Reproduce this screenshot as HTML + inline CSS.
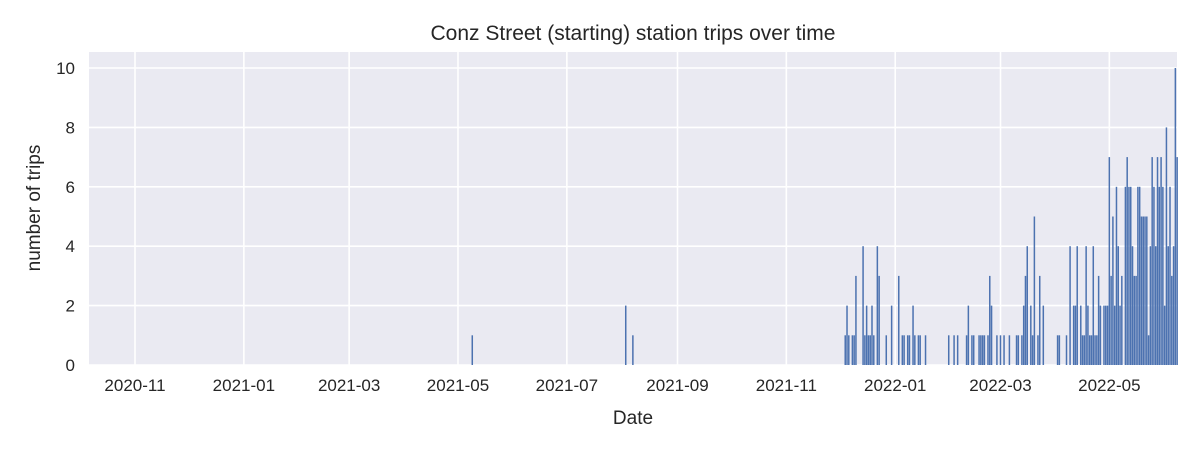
<!DOCTYPE html>
<html><head><meta charset="utf-8"><style>
body{margin:0;background:#fff;font-family:"Liberation Sans",sans-serif;}
svg text{font-family:"Liberation Sans",sans-serif;fill:#262626;}
</style></head><body>
<svg id="chart" width="1200" height="450">
<rect x="89" y="52" width="1088" height="313" fill="#eaeaf2"/>
<g id="grid"></g><g id="bars"></g><g id="ticks"></g>
<text x="633" y="40" font-size="21" text-anchor="middle">Conz Street (starting) station trips over time</text>
<text x="633" y="424" font-size="19" text-anchor="middle">Date</text>
<text x="40" y="208" font-size="19" text-anchor="middle" transform="rotate(-90 40 208)">number of trips</text>
</svg>
<script>
// day offsets since 2020-11-01
const days=[189,275,279,398,399,400,402,403,404,408,409,410,411,412,413,414,416,417,421,424,428,430,431,433,434,436,437,439,440,443,456,459,461,466,467,469,470,473,474,475,476,478,479,480,483,485,487,490,494,495,497,498,499,500,502,503,504,506,507,509,517,518,522,524,526,527,528,530,531,532,533,534,535,536,537,538,539,540,541,543,544,545,546,547,548,549,550,551,552,553,555,556,557,558,559,560,561,562,563,564,565,566,567,568,569,570,571,572,573,574,575,576,577,578,579,580,581,582,583,584];
const trips=[1,2,1,1,2,1,1,1,3,4,1,2,1,1,2,1,4,3,1,2,3,1,1,1,1,2,1,1,1,1,1,1,1,1,2,1,1,1,1,1,1,1,3,2,1,1,1,1,1,1,1,2,3,4,2,1,5,1,3,2,1,1,1,4,2,2,4,2,1,1,4,2,1,1,4,1,1,3,2,2,2,2,7,3,5,2,6,4,2,3,6,7,6,6,4,3,3,6,6,5,5,5,5,1,4,7,6,4,7,6,7,6,2,8,4,6,3,4,10,7];
const xTickLabels=["2020-11","2021-01","2021-03","2021-05","2021-07","2021-09","2021-11","2022-01","2022-03","2022-05"];
const xTickDays=[0,61,120,181,242,304,365,426,485,546];
const yTicks=[0,2,4,6,8,10];
const NS="http://www.w3.org/2000/svg";
const x=d=>135+d*1.7845;
const y=v=>365-v*29.7;
const grid=document.getElementById('grid'),bars=document.getElementById('bars'),ticks=document.getElementById('ticks');
function mk(tag,attrs,parent){const e=document.createElementNS(NS,tag);for(const k in attrs)e.setAttribute(k,attrs[k]);parent.appendChild(e);return e;}
yTicks.forEach(v=>{
 const l=mk('line',{x1:89,x2:1177,y1:y(v),y2:y(v),stroke:'#fff','stroke-width':1.6},grid);
 
 
 const t=mk('text',{x:75,y:y(v)+6,'font-size':17,'text-anchor':'end'},ticks);t.textContent=v;
 
 
});
xTickDays.forEach((d,i)=>{
 const l=mk('line',{x1:x(d),x2:x(d),y1:52,y2:365,stroke:'#fff','stroke-width':1.6},grid);
 
 
 const t=mk('text',{x:x(d),y:391,'font-size':17,'text-anchor':'middle'},ticks);t.textContent=xTickLabels[i];
 
 
});
days.forEach((d,i)=>{
 const r=mk('rect',{x:x(d)-0.75,y:y(trips[i]),width:1.5,height:365-y(trips[i]),fill:'#4c72b0'},bars);
 
 
});
</script>
</body></html>
